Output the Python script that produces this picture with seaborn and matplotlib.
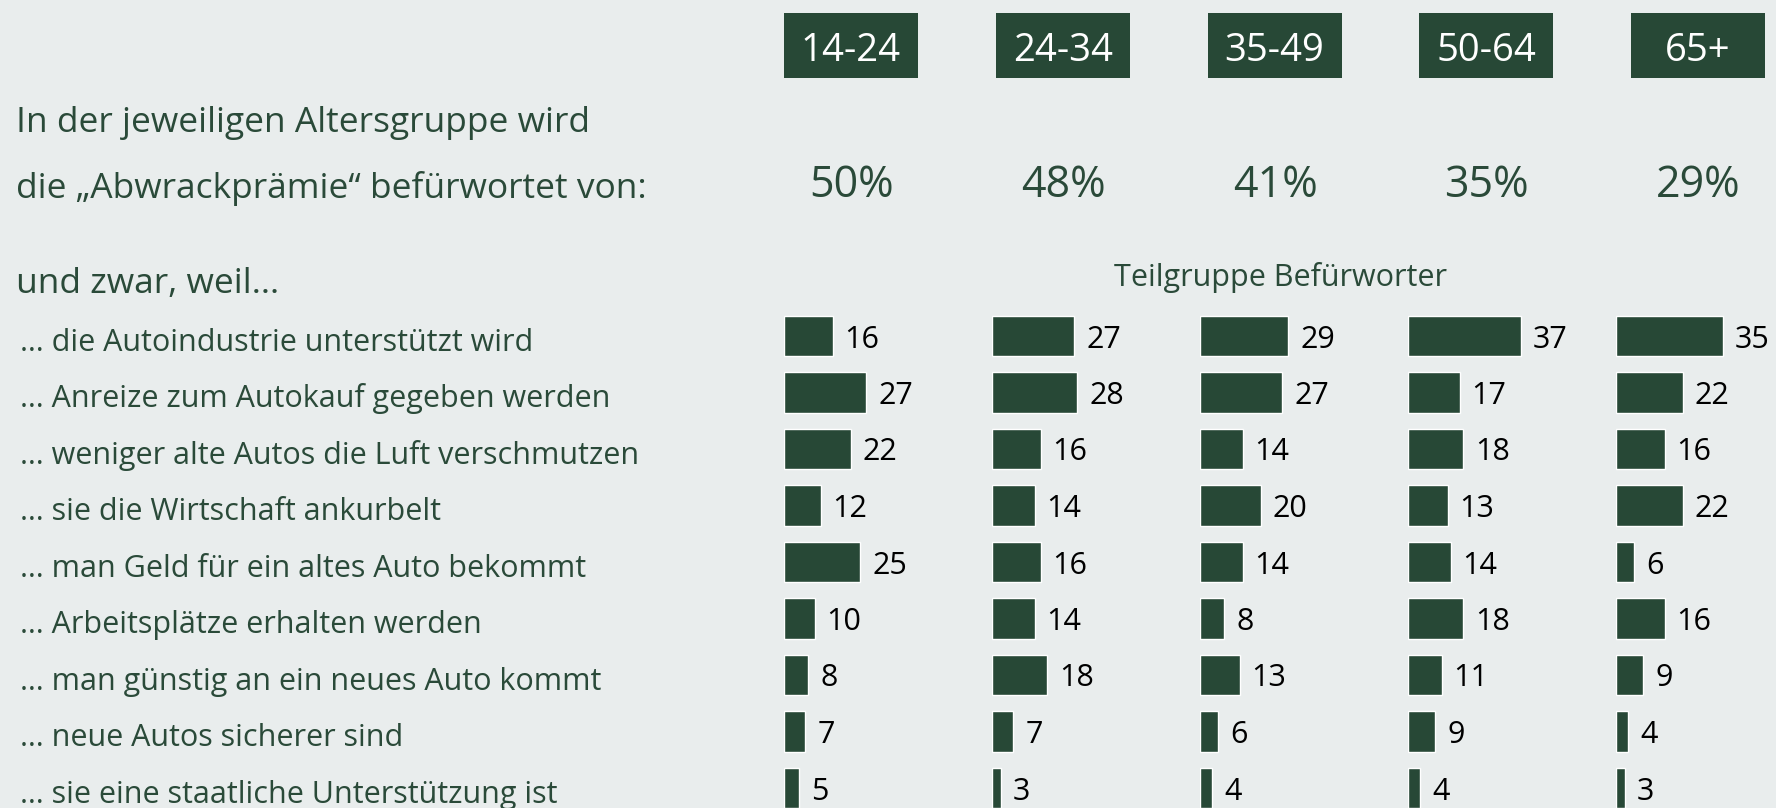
import numpy as np
import pandas as pd
import matplotlib.pyplot as plt
import seaborn as sns
from matplotlib.patches import Rectangle
from matplotlib.transforms import blended_transform_factory

# data
age_groups = ["14-24", "24-34", "35-49", "50-64", "65+"]
support_pct = [50, 48, 41, 35, 29]
reasons = [
    "… die Autoindustrie unterstützt wird",
    "… Anreize zum Autokauf gegeben werden",
    "… weniger alte Autos die Luft verschmutzen",
    "… sie die Wirtschaft ankurbelt",
    "… man Geld für ein altes Auto bekommt",
    "… Arbeitsplätze erhalten werden",
    "… man günstig an ein neues Auto kommt",
    "… neue Autos sicherer sind",
    "… sie eine staatliche Unterstützung ist",
]
share_14_24 = [16, 27, 22, 12, 25, 10, 8, 7, 5]
share_24_34 = [27, 28, 16, 14, 16, 14, 18, 7, 3]
share_35_49 = [29, 27, 14, 20, 14, 8, 13, 6, 4]
share_50_64 = [37, 17, 18, 13, 14, 18, 11, 9, 4]
share_65_plus = [35, 22, 16, 22, 6, 16, 9, 4, 3]
shares = [share_14_24, share_24_34, share_35_49, share_50_64, share_65_plus]

df = pd.DataFrame({
    "group": np.repeat(age_groups, len(reasons)),
    "reason": reasons * len(age_groups),
    "value": np.concatenate(shares),
})

# style
BG = "#E9EDED"
GREEN = "#274836"
TEXT_GREEN = "#2A4A39"
FONT = ["Open Sans", "DejaVu Sans"]

sns.set_theme(style="white")
plt.rcParams["font.family"] = FONT

W, H = 1776, 808
fig = plt.figure(figsize=(W / 100, H / 100), dpi=100, facecolor=BG)


def fx(px):
    return px / W


def fy(px):
    return 1 - px / H


# layout (pixels)
ROW0, ROW_STEP = 336, 56.5
AX_TOP = 300
COL0, COL_STEP, PX_PER_UNIT = 784, 208, 3.05
XMAX = 60
ylim_top = -(ROW0 - AX_TOP) / ROW_STEP
ylim_bot = (len(reasons) - 1) + (H - (ROW0 + (len(reasons) - 1) * ROW_STEP)) / ROW_STEP

# header boxes + percentages
BOX0, BOX_STEP, BOX_W = 784, 211.75, 134
for i, (grp, pct) in enumerate(zip(age_groups, support_pct)):
    left = BOX0 + i * BOX_STEP
    fig.add_artist(Rectangle((fx(left), fy(77.7)), BOX_W / W, 64.4 / H,
                             transform=fig.transFigure, facecolor=GREEN,
                             edgecolor="none"))
    cx = left + BOX_W / 2
    fig.text(fx(cx), fy(60.7), grp, ha="center", va="baseline",
             color="white", fontsize=27.5)
    fig.text(fx(cx + 0.5), fy(197.3), f"{pct}%", ha="center", va="baseline",
             color=TEXT_GREEN, fontsize=31)

# left-hand intro text
fig.text(fx(16), fy(131.7), "In der jeweiligen Altersgruppe wird",
         ha="left", va="baseline", color=TEXT_GREEN, fontsize=25.5)
fig.text(fx(16), fy(198), "die „Abwrackprämie“ befürwortet von:",
         ha="left", va="baseline", color=TEXT_GREEN, fontsize=25.5)
fig.text(fx(16), fy(293), "und zwar, weil…",
         ha="left", va="baseline", color=TEXT_GREEN, fontsize=25.5)
fig.text(fx(1280), fy(286), "Teilgruppe Befürworter",
         ha="center", va="baseline", color=TEXT_GREEN, fontsize=22)

# bar panels
axes = []
for i, grp in enumerate(age_groups):
    left = COL0 + i * COL_STEP
    ax = fig.add_axes([fx(left), 0, XMAX * PX_PER_UNIT / W, (H - AX_TOP) / H])
    sub = df[df["group"] == grp]
    sns.barplot(data=sub, x="value", y="reason", order=reasons, orient="h",
                color=GREEN, saturation=1, width=0.72, edgecolor="white",
                linewidth=1.0, ax=ax)
    labels = ax.bar_label(ax.containers[0], padding=8.5, fontsize=22,
                          color="black")
    for t in labels:
        t.set_va("center_baseline")
    ax.set_xlim(0, XMAX)
    ax.set_ylim(ylim_bot, ylim_top)
    ax.set_axis_off()
    axes.append(ax)

# row labels on the left
tr = blended_transform_factory(fig.transFigure, axes[0].transData)
for j, reason in enumerate(reasons):
    axes[0].text(fx(20), j + 15 / ROW_STEP, reason, transform=tr,
                 ha="left", va="baseline", color=TEXT_GREEN, fontsize=22)

fig.savefig("out.png", dpi=100, facecolor=BG)
